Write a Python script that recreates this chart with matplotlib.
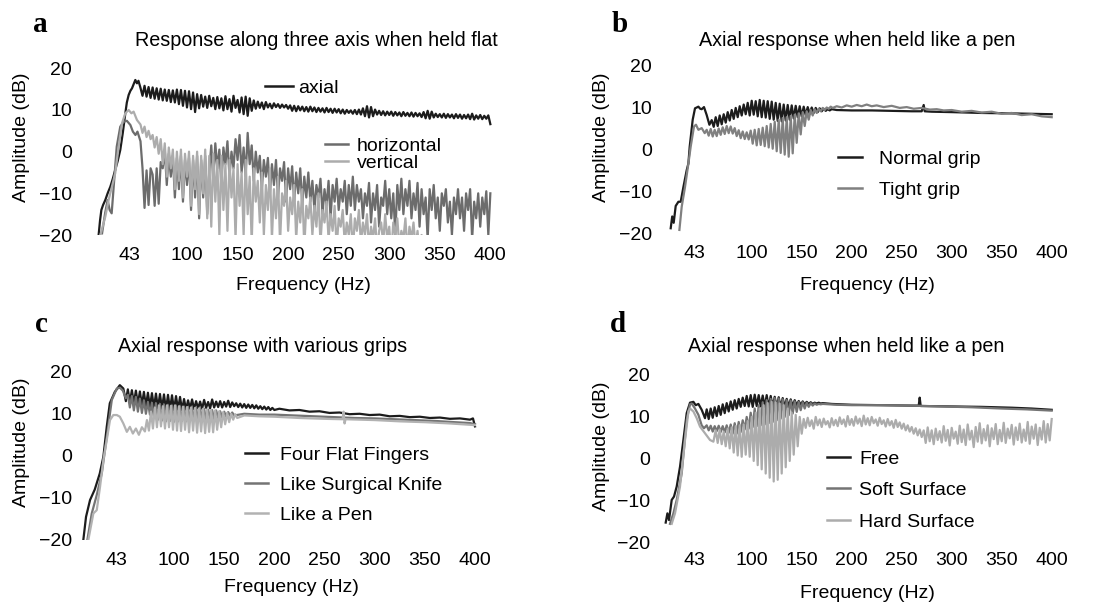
import numpy as np
import matplotlib
matplotlib.use("Agg")
import matplotlib.pyplot as plt

plt.rcParams['font.family'] = ['Liberation Sans', 'DejaVu Sans']

# ---------------- data ----------------
# each series = sparse points for the smooth rise, a block sampled every 2 Hz
# for the oscillating part, and (optionally) sparse points for the flat tail
xticks = [43, 100, 150, 200, 250, 300, 350, 400]
yticks = [-20, -10, 0, 10, 20]

# panel a: response along three axis when held flat
a_axial_f = [12.6, 14, 15.3, 17, 19.2, 21.5, 24.2, 26.5, 29, 31.5, 34, 36.5, 39, 40.5,
             42.3, 44, 45.6, 47.3, 48.9, 50.5, 52]
a_axial_a = [-20, -16.5, -14, -12.8, -11.6, -10, -8.4, -6.6, -4.4, -2.2, 0.4, 4.5, 9.2, 11.8,
             13.6, 14.6, 15.2, 16.2, 17.2, 16.4, 17.0]
a_axial_dense = [15.3, 13.4, 15.8, 13.2, 15.5, 12.9, 15.4, 12.7, 15.2, 12.5, 15.1, 12.3, 14.9, 12.2,
                 14.8, 11.9, 14.7, 11.8, 14.9,
                 11.4, 14.8, 11.0, 14.6, 10.6, 14.5, 10.2, 14.2, 9.5, 13.8, 10.4, 13.6, 10.8, 13.2,
                 10.5, 13.4, 10.9, 12.9, 10.2, 13.1,
                 10.4, 12.8, 9.9, 13.3, 10.2, 12.6, 9.6, 13.4, 10.5, 12.4, 9.4, 13.0, 9.0, 13.2,
                 8.6, 12.8, 9.8, 12.3,
                 10.3, 12.0, 10.5, 11.8, 10.2, 11.9, 10.6, 11.5, 10.4, 11.6, 10.7, 11.4, 10.5, 11.3,
                 10.6, 11.2, 10.3,
                 11.1, 9.8, 11.0, 9.7, 10.9, 9.9, 10.8, 9.7, 10.7, 9.6, 10.8, 9.7, 10.6, 9.5, 10.5,
                 9.6, 10.4, 9.4, 10.5, 9.5, 10.3, 9.3, 10.3, 9.4, 10.2,
                 9.2, 10.1, 9.1, 10.0, 9.3, 9.9, 9.1, 10.0, 9.0, 10.1, 8.9, 10.4, 8.5, 10.9, 8.2, 10.7,
                 8.5, 10.1, 8.9, 9.8, 8.8, 9.7, 8.7, 9.6, 8.8,
                 9.6, 8.6, 9.5, 8.7, 9.4, 8.5, 9.5, 8.6, 9.3, 8.5, 9.4, 8.4, 9.3, 8.5, 9.2, 8.3, 9.5,
                 8.0, 9.8, 7.9, 9.6, 8.2, 9.1, 8.3, 9.0,
                 8.2, 9.1, 8.1, 9.0, 8.2, 8.9, 8.0, 9.0, 8.1, 8.9, 7.9, 8.8, 8.0, 8.9, 7.8, 9.1, 7.7,
                 8.7, 7.9, 8.8, 7.8, 8.6, 7.9, 8.7, 6.6]

a_horiz_f = [16, 19, 21.5, 23.5, 25.5, 27.5, 30.5, 34, 37.5, 40.5, 44, 46.5, 49, 51]
a_horiz_a = [-19.6, -14.8, -11.6, -14, -14.8, -8.4, 1.2, 6, 7.2, 7.4, 6.4, 4.8, 4, 4.8]
a_horiz_dense = [2.5, -4, -13.5, -4.5, -12.8, -4, -5.5, -13, -4, -12.5, -2.5,
                 -4, 0.5, -8, -0.5, -6, -1, -11, -1.5, -9, -1, -12, -2, -8, -1.5, -14, -2, -11,
                 -1, -16, -2, -11, -1, -15,
                 -5, 1.5, -7, 2, -4, 0.5, -8, 1, -3, 2.5, -6, 0, -4, 3, -2, 4, -5, 1, -6, 4.5, -3,
                 1.5, -7, 0, -5,
                 -1, -9, -2, -6, -1.5, -10, -3, -8, -2, -11, -4, -7, -2.5, -12, -4, -9, -3.5, -12,
                 -5, -10, -4, -13, -6, -11, -5,
                 -12, -7, -14, -8, -11, -6.5, -15, -9, -13, -7, -16, -8, -12, -6.5, -14, -9, -12,
                 -7, -15, -8, -13, -6, -14, -8, -12,
                 -9, -16, -10, -13, -7.5, -17, -10, -14, -8, -18, -11, -13, -7, -15, -9, -16, -10,
                 -20, -8, -14, -6.5, -15, -9, -13, -7,
                 -16, -10, -14, -7.5, -18, -9, -15, -11, -21, -9, -14, -8, -16, -11, -19, -10, -13,
                 -9, -17, -12, -20, -11, -15, -9, -16,
                 -11, -19, -10, -14, -9, -21, -12, -16, -10, -18, -11, -15, -9.5, -20, -10]

a_vert_f = [14.3, 19.2, 22.5, 25.8, 29, 32.4, 35.7, 39, 42.3, 45, 47.2, 50.5]
a_vert_a = [-20, -15.6, -11.6, -8.4, -5.2, 1.2, 6.8, 9.2, 10, 9.2, 9.6, 7.6]
a_vert_dense = [6.5, 4.5, 6, 3.5, 5, 3, 4, 1, 3.5, -0.5, 3,
                -3, 2, -6, 1, -4, 0.5, -9, 0, -7, 0.5, -11, -0.5, -6, 0, -13, -1, -9, 0, -15, -1,
                -10, 0.5, -16,
                -1, -18, -0.5, -12, -2, -20, -1, -14, -3, -19, -2, -11, -4, -21, -3, -13, -5, -20,
                -2, -15, -6, -22, -4, -12, -7,
                -17, -5, -20, -8, -14, -4, -21, -9, -16, -6, -22, -10, -13, -7, -19, -11, -15, -8,
                -21, -12, -17, -9, -23, -13, -16,
                -11, -20, -13, -18, -10, -22, -14, -17, -12, -21, -15, -19, -13, -23, -16, -18,
                -14, -22, -17, -20, -15, -24, -16, -19, -14,
                -22, -17, -20, -15, -23, -18, -21, -16, -24, -19, -17, -22, -15, -21, -18, -25,
                -17, -20, -16, -23, -19, -21, -16, -24, -18,
                -21, -17, -23, -19, -25, -20, -22, -24, -21, -26, -23, -22, -25, -24, -27, -23,
                -25, -22, -26, -24, -27, -25, -23, -26, -24,
                -27, -25, -23, -26, -24, -28, -25, -27, -24, -26, -28, -25, -27, -26, -28]

# panel b: axial response when held like a pen
b_normal_f = [19, 20.5, 22, 24, 26.7, 29, 31.7, 35, 36.7, 38, 41, 43.3, 46.7, 48.5, 50, 52.3,
              55, 57.7, 60]
b_normal_a = [-18.8, -16, -17.5, -13.5, -12.5, -12.5, -9, -5, -3.4, 0.6, 7, 9.7, 10.1, 9.6,
              9.5, 10, 8.1, 5.8, 6.9]
b_normal_dense = [5.3, 7.6, 5.5, 8.0, 5.9, 8.3, 6.3, 8.8, 6.8, 9.3, 7.2, 9.8, 7.6, 10.2, 8.0,
                  10.6, 8.3,
                  11.0, 8.0, 11.5, 8.2, 11.4, 7.8, 11.7, 7.6, 11.5, 7.5, 11.4, 7.2, 11.3, 7.0,
                  11.0, 6.7, 10.8, 6.6,
                  10.6, 6.8, 10.5, 7.0, 10.4, 7.3, 10.3, 7.6, 10.2, 7.8, 10.1, 8.1, 10.0, 8.4, 9.9,
                  8.6, 9.8, 8.8, 9.7, 9.0, 9.6, 9.1, 9.5, 9.2, 9.5]
b_normal_tail_f = [185, 200, 220, 240, 260, 270, 272, 273, 280, 300, 330, 360, 380, 400]
b_normal_tail_a = [9.3, 9.2, 9.2, 9.1, 9.0, 9.0, 10.5, 9.0, 8.9, 8.8, 8.6, 8.5, 8.4, 8.3]

b_tight_f = [27.7, 30, 33.3, 36.7, 39, 42.3, 44.3, 46.7, 50, 53, 55]
b_tight_a = [-19.2, -13.7, -9, -3.4, 0.6, 5.4, 5.8, 4.6, 5.0, 3.8, 4.6]
b_tight_dense = [3.2, 4.8, 3.0, 4.6, 3.1, 4.9, 3.4, 5.2, 3.6, 5.5, 3.8, 5.4,
                 3.7, 5.0, 3.1, 4.5, 2.6, 4.2, 2.4, 4.0, 2.3, 4.4,
                 1.3, 4.6, 0.9, 4.8, 1.0, 5.1, 0.7, 5.5, 0.4, 6.0, 0.1, 6.5, -0.5,
                 7.0, -0.9, 7.4, -1.3, 7.6, -1.8, 7.9, -1.0,
                 8.2, 1.5, 8.5, 3.5, 8.8, 5.5, 9.0, 7.0, 9.3, 8.0,
                 9.5, 8.6, 9.6, 9.0, 9.8, 9.3, 9.9, 9.6, 10.1, 9.8]
b_tight_tail_f = [185, 190, 195, 200, 205, 210, 215, 220, 225, 232, 240, 248, 255, 262, 270,
                  278, 285, 292, 300, 310, 320, 330, 340, 350, 360, 370, 380, 390, 400]
b_tight_tail_a = [10.2, 9.9, 10.4, 10.1, 10.5, 10.2, 10.6, 10.2, 10.4, 10.0, 10.3, 9.8, 10.0,
                  9.6, 9.8, 9.4, 9.5, 9.2, 9.3, 8.9, 9.1, 8.7, 8.9, 8.4, 8.6, 8.1, 8.3, 7.8, 7.6]

# panel c: axial response with various grips
c_four_f = [9.6, 12.3, 16.3, 21, 26, 29.6, 33, 36, 41, 46, 49.5]
c_four_a = [-20, -14.5, -10.5, -8, -4.2, -0.2, 7, 12.5, 15.2, 16.8, 16]
c_four_dense = [13.0, 15.8, 12.6, 15.6, 12.4, 15.5, 12.2, 15.3, 12.0, 15.2, 11.8, 15.0, 11.6,
                14.9, 11.4, 14.8, 11.3, 14.7, 11.2, 14.6, 11.0, 14.5, 11.0, 14.4, 10.9, 14.2,
                11.0, 14.0, 10.9,
                13.5, 11.0, 13.2, 11.2, 13.4, 11.1, 13.0, 11.3, 12.9, 11.2, 13.3, 11.4, 12.8,
                11.3, 13.4, 11.5, 12.9, 11.6, 13.0, 11.5, 12.8, 11.7, 13.1, 11.6, 12.7, 11.8,
                12.5, 11.6, 12.4, 11.5, 12.3, 11.4, 12.2, 11.4, 12.1, 11.3, 12.0, 11.2, 11.8,
                11.1, 11.7, 11.0, 11.6, 10.9, 11.4, 10.9]
c_four_tail_f = [205, 215, 225, 235, 245, 255, 265, 275, 285, 295, 305, 315, 325, 335, 345,
                 355, 365, 375, 385, 395, 398, 400]
c_four_tail_a = [11.2, 10.8, 10.9, 10.5, 10.6, 10.2, 10.3, 9.9, 10.0, 9.7, 9.8, 9.4, 9.5, 9.2,
                 9.3, 9.0, 9.1, 8.8, 8.9, 8.6, 8.9, 7.0]

c_knife_f = [13.6, 18, 23, 28, 33, 38, 43, 46, 49, 52]
c_knife_a = [-20, -13.7, -9.3, -4.2, 4.5, 13.3, 16, 16.2, 15.5, 13.7]
c_knife_dense = [14.5, 11.5, 14.2, 10.8, 14.0, 10.5, 13.6, 10.2, 13.2, 10.0, 12.8, 9.8,
                 12.6, 9.0, 12.5, 8.6, 12.3, 8.4, 12.2, 8.2, 12.0, 8.3, 11.9, 8.1, 11.8, 8.2,
                 11.7, 8.3, 11.6, 8.2, 11.5, 8.4, 11.4, 8.5,
                 11.5, 8.3, 11.3, 8.6, 11.2, 8.4, 11.0, 8.8, 10.9, 8.7, 10.8, 9.0, 10.6, 9.1,
                 10.5, 9.3, 10.4, 9.5, 10.3, 9.6]
c_knife_tail_f = [170, 185, 200, 220, 240, 260, 280, 300, 320, 340, 360, 380, 395, 400]
c_knife_tail_a = [10.0, 9.8, 9.8, 9.6, 9.4, 9.2, 9.0, 8.9, 8.7, 8.5, 8.3, 8.0, 7.8, 7.5]

c_pen_f = [14.6, 16.5, 19.6, 23, 26.3, 29.6, 33, 36.2, 39.5, 43, 46, 49.5, 53, 56, 59, 62, 65,
           68, 71]
c_pen_a = [-20, -17.6, -13.7, -12.9, -7.3, -1, 3.8, 8.5, 9.7, 9.7, 9.3, 7.7, 5.7, 6.9, 5.3,
           6.5, 5.0, 6.8, 5.8]
c_pen_dense = [8.5, 6.0, 10.5, 6.5, 11.5, 6.8, 12.0, 7.0, 11.8, 6.5, 12.0, 6.8, 11.9, 6.2,
               12.0, 6.0, 11.8, 5.9, 11.7, 6.2, 11.6, 5.6, 11.5, 6.0, 11.4, 5.5, 11.3, 5.8, 11.2,
               5.4, 11.0, 5.7, 10.9, 5.6, 10.8, 6.2, 10.6,
               6.8, 10.4, 7.5, 10.2, 8.0, 10.0, 8.6, 9.9, 9.0]
c_pen_tail_f = [170, 185, 200, 225, 250, 268, 269, 270, 271, 300, 325, 350, 375, 400]
c_pen_tail_a = [9.6, 9.4, 9.3, 9.0, 8.8, 8.7, 10.5, 7.7, 8.7, 8.5, 8.2, 8.0, 7.7, 7.3]

# panel d: axial response when held like a pen (surfaces)
d_free_f = [14, 15.7, 17.3, 20, 22.3, 25, 28.3, 31.7, 35, 38.3, 41.7, 44, 46.7, 50, 52, 53.3]
d_free_a = [-15.2, -13, -14.6, -9.8, -9, -6.6, -1.9, 4.5, 10.9, 13.4, 13.6, 12.8, 13.1, 11.7,
            10.5, 9.7]
d_free_dense = [11.8, 9.5, 12.0, 9.8, 12.3, 10.2, 12.6, 10.5, 13.0, 10.9, 13.3, 11.3, 13.7,
                11.7, 14.0, 12.0, 14.3, 12.4, 14.6, 12.6,
                15.0, 12.5, 15.2, 12.4, 15.3, 12.6, 15.2, 12.5, 15.1, 12.4, 15.2, 12.3, 15.0,
                12.4, 14.8, 12.3,
                14.7, 12.3, 14.5, 12.4, 14.3, 12.5, 14.2, 12.6, 14.0, 12.8, 13.8, 12.9, 13.7,
                13.0, 13.6, 13.1, 13.5, 13.1, 13.4, 13.2, 13.4, 13.2, 13.3]
d_free_tail_f = [180, 200, 230, 260, 267, 268, 269, 300, 330, 360, 380, 400]
d_free_tail_a = [13.1, 12.9, 12.8, 12.7, 12.7, 14.6, 12.6, 12.5, 12.4, 12.2, 12.0, 11.7]

d_soft_f = [18.3, 21.7, 25, 30, 35, 38.3, 40, 43.3, 46.7, 50, 52.3]
d_soft_a = [-15.5, -13, -9.8, -3.5, 9.3, 13, 13.2, 12, 10.5, 8, 7.3]
d_soft_dense = [8.0, 6.8, 7.9, 6.5, 7.8, 6.6, 7.9, 6.4, 7.8, 6.3, 8.0, 6.2, 8.2, 6.0, 8.5, 6.0,
                8.8, 6.4, 9.2, 7.0,
                10.0, 7.2, 11.0, 7.6, 12.0, 7.8, 12.8, 8.0, 13.5, 8.2, 14.0, 8.5, 14.3, 8.8,
                14.5, 9.2,
                14.4, 9.6, 14.2, 10.0, 14.0, 10.4, 13.9, 10.8, 13.7, 11.2, 13.6, 11.6, 13.5,
                12.0, 13.4, 12.4, 13.3, 12.7, 13.2, 12.9, 13.1, 13.0, 13.1]
d_soft_tail_f = [185, 200, 230, 260, 290, 320, 350, 375, 400]
d_soft_tail_a = [12.9, 12.8, 12.8, 12.7, 12.5, 12.3, 12.0, 11.8, 11.5]

d_hard_f = [20, 23.3, 28.3, 33.3, 36.7, 38.3, 41.7, 45, 48.3, 53.3, 58.3, 61.7]
d_hard_a = [-15.5, -13, -6.6, 4.5, 11.3, 12, 11.3, 9.7, 7.7, 6.1, 4.5, 4.1]
d_hard_dense = [6.8, 3.8, 7.0, 3.5, 6.5, 3.0, 7.2, 2.5, 7.5, 1.5, 7.8, 0.8, 8.0, 0.5, 8.2, 1.0,
                9.0, 0.5, 10.0, -0.5, 11.0, -1.5, 12.0, -2.5, 12.8, -3.5, 13.3, -4.5, 13.6,
                -5.4, 13.5,
                -5.0, 13.2, -3.5, 12.8, -2.0, 12.0, -0.5, 11.0, 1.0, 10.5, 3.0, 10.0, 6.0,
                9.5, 7.4, 9.8, 7.8, 9.2, 7.2, 10.0, 8.0, 9.4, 7.6, 9.6, 8.2, 9.0, 7.5, 9.7, 8.0,
                9.3, 7.8, 9.9, 8.3, 9.4, 7.7, 10.2, 8.1, 9.5, 7.9, 10.1, 8.4, 9.6, 7.8, 10.3,
                8.2, 9.7, 8.0, 10.0, 8.5, 9.4, 7.9, 9.8, 8.3, 9.2, 7.7, 9.5, 8.0, 9.0, 7.4, 9.3,
                7.6, 8.7, 7.2,
                8.4, 6.8, 8.0, 6.5, 7.6, 6.0, 7.3, 5.6, 7.0, 5.2, 6.8, 3.8, 7.5, 4.2, 6.8, 3.5,
                7.2, 4.5, 6.6, 3.9, 7.8, 4.3, 6.9, 3.2, 7.4, 4.8, 6.5, 3.6, 7.9, 4.0, 7.0, 3.3,
                8.2, 4.6, 6.7, 2.8, 7.6, 4.1, 8.5, 3.7, 7.1, 4.4, 8.0, 3.0, 7.3, 4.7, 8.3, 3.5,
                6.9, 4.2, 8.6, 3.8, 7.2, 4.9, 8.1, 3.4, 7.5, 4.5, 8.4, 3.9, 7.0, 4.3, 8.8, 3.6,
                7.7, 4.8, 8.2, 3.3, 7.4, 4.6, 9.0, 3.9, 8.3, 4.4, 9.5]


def series(f_pre, a_pre, f0, dense, f_tail=(), a_tail=(), step=2.0):
    f_dense = f0 + step * np.arange(len(dense))
    f = np.concatenate([f_pre, f_dense, f_tail])
    a = np.concatenate([a_pre, dense, a_tail])
    return f, a


BLACK = '#1c1c1c'
DARK = '#747474'
LIGHT = '#acacac'

panels = [
    dict(letter='a', title='Response along three axis when held flat',
         rect=(96, 68.3, 495.4, 235), xlim=(10, 405), ypad=17.3, xpad=8.5,
         letter_xy=(33, 32), title_xy=(316, 41), ylab_xy=(22, 137), xlab_xy=(303, 285),
         lines=[(series(a_axial_f, a_axial_a, 54, a_axial_dense), BLACK, 'axial'),
                (series(a_horiz_f, a_horiz_a, 54, a_horiz_dense), '#6c6c6c', 'horizontal'),
                (series(a_vert_f, a_vert_a, 54, a_vert_dense), LIGHT, 'vertical')]),
    dict(letter='b', title='Axial response when held like a pen',
         rect=(661.7, 65, 1056.7, 233.3), xlim=(10, 405), ypad=7, xpad=8.5,
         letter_xy=(612, 32), title_xy=(857, 40), ylab_xy=(601, 137), xlab_xy=(867, 285),
         lines=[(series(b_normal_f, b_normal_a, 62, b_normal_dense,
                        b_normal_tail_f, b_normal_tail_a), BLACK, 'Normal grip'),
                (series(b_tight_f, b_tight_a, 57, b_tight_dense,
                        b_tight_tail_f, b_tight_tail_a), '#808080', 'Tight grip')]),
    dict(letter='c', title='Axial response with various grips',
         rect=(78.7, 371.7, 480, 540), xlim=(5, 405), ypad=4.8, xpad=8.5,
         letter_xy=(35, 332), title_xy=(263, 347), ylab_xy=(22, 442), xlab_xy=(291, 588),
         lines=[(series(c_four_f, c_four_a, 52, c_four_dense,
                        c_four_tail_f, c_four_tail_a), BLACK, 'Four Flat Fingers'),
                (series(c_knife_f, c_knife_a, 54, c_knife_dense,
                        c_knife_tail_f, c_knife_tail_a), DARK, 'Like Surgical Knife'),
                (series(c_pen_f, c_pen_a, 73, c_pen_dense,
                        c_pen_tail_f, c_pen_tail_a), '#b2b2b2', 'Like a Pen')]),
    dict(letter='d', title='Axial response when held like a pen',
         rect=(661.7, 375, 1056.7, 542.7), xlim=(10, 405), ypad=8.4, xpad=7,
         letter_xy=(610, 332), title_xy=(846, 347), ylab_xy=(601, 446), xlab_xy=(867, 593),
         lines=[(series(d_free_f, d_free_a, 55, d_free_dense,
                        d_free_tail_f, d_free_tail_a), BLACK, 'Free'),
                (series(d_soft_f, d_soft_a, 55, d_soft_dense,
                        d_soft_tail_f, d_soft_tail_a), DARK, 'Soft Surface'),
                (series(d_hard_f, d_hard_a, 64, d_hard_dense), LIGHT, 'Hard Surface')]),
]

W, H = 1105, 603
fig = plt.figure(figsize=(W / 100, H / 100), dpi=100)

axes = []
for p in panels:
    x0, y0, x1, y1 = p['rect']
    ax = fig.add_axes([x0 / W, 1 - y1 / H, (x1 - x0) / W, (y1 - y0) / H])
    handles = []
    for (f, a), color, label in p['lines']:
        h, = ax.plot(f, a, color=color, lw=1.6, label=label)
        handles.append(h)
    ax.set_xlim(*p['xlim'])
    ax.set_ylim(-20, 20)
    ax.set_xticks(xticks)
    ax.set_yticks(yticks)
    ax.tick_params(length=0, labelsize=14)
    ax.tick_params(axis='y', pad=p['ypad'])
    ax.tick_params(axis='x', pad=p['xpad'])
    for s in ax.spines.values():
        s.set_visible(False)
    ax.patch.set_alpha(0)

    fig.text(p['letter_xy'][0] / W, 1 - p['letter_xy'][1] / H, p['letter'],
             family=['Liberation Serif', 'DejaVu Serif'], fontweight='bold', fontsize=21,
             ha='left', va='baseline')
    fig.text(p['title_xy'][0] / W, 1 - p['title_xy'][1] / H, p['title'],
             fontsize=14.2, ha='center', va='center')
    fig.text(p['ylab_xy'][0] / W, 1 - p['ylab_xy'][1] / H, 'Amplitude (dB)',
             fontsize=14, rotation=90, ha='center', va='center')
    fig.text(p['xlab_xy'][0] / W, 1 - p['xlab_xy'][1] / H, 'Frequency (Hz)',
             fontsize=14, ha='center', va='center')
    axes.append((ax, handles))


def put_legend(ax, handles, xy, handlelength, pad, spacing):
    leg = ax.legend(handles=handles, loc='upper left',
                    bbox_to_anchor=(xy[0] / W, 1 - xy[1] / H), bbox_transform=fig.transFigure,
                    frameon=False, fontsize=14, borderpad=0, borderaxespad=0,
                    handlelength=handlelength, handletextpad=pad, labelspacing=spacing)
    for line in leg.get_lines():
        line.set_linewidth(1.8)
    return leg


ax, hs = axes[0]
leg1 = put_legend(ax, hs[:1], (265, 79), 1.45, 0.25, 0)
ax.add_artist(leg1)
put_legend(ax, hs[1:], (325, 137), 1.2, 0.45, 0.0)

ax, hs = axes[1]
put_legend(ax, hs, (838, 150), 1.25, 0.85, 0.7)

ax, hs = axes[2]
put_legend(ax, hs, (245, 446), 1.2, 0.6, 0.65)

ax, hs = axes[3]
put_legend(ax, hs, (827, 450), 1.2, 0.45, 0.72)

fig.savefig('out.png', dpi=100)
